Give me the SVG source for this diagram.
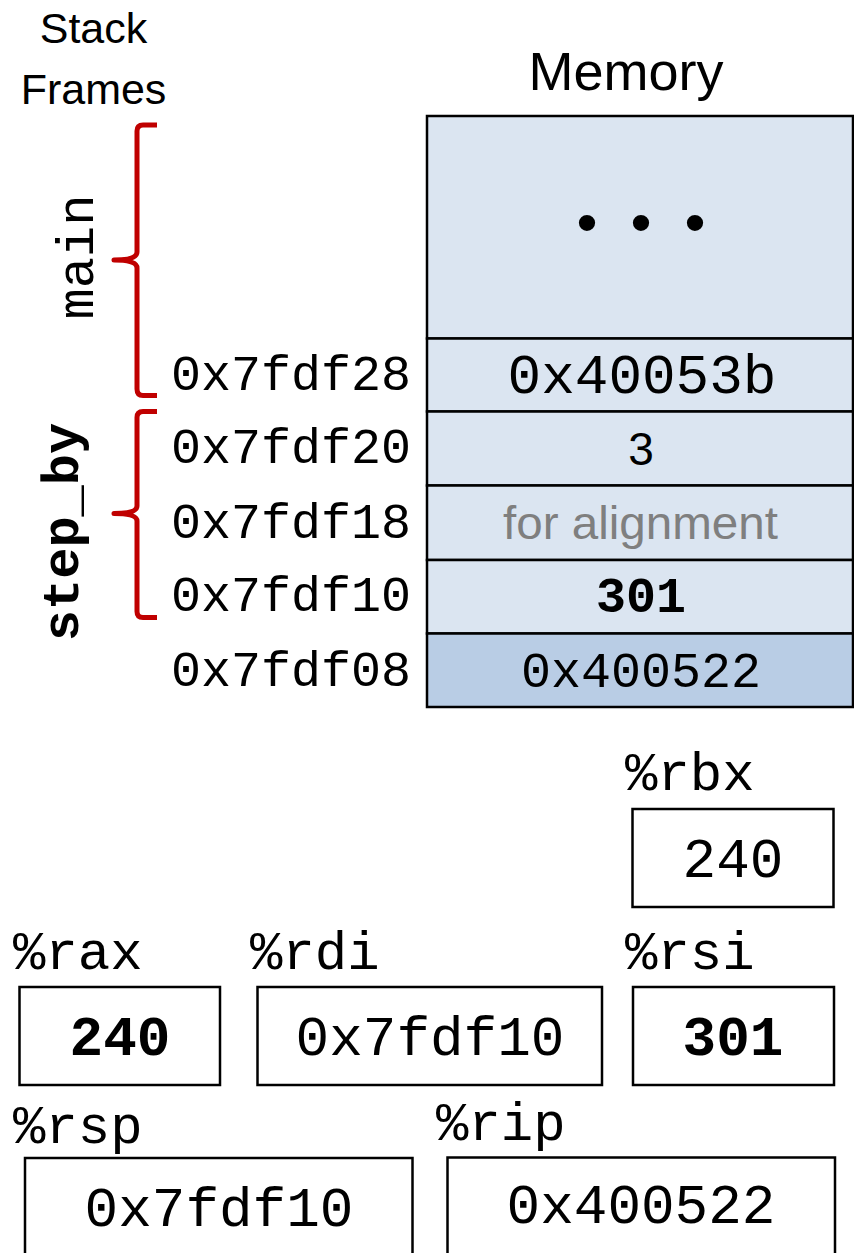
<svg xmlns="http://www.w3.org/2000/svg" width="854" height="1253" viewBox="0 0 854 1253">
<style>
.sans{font-family:"Liberation Sans",Arial,sans-serif;fill:#000}
.mono{font-family:"Liberation Mono","Courier New",monospace;fill:#000}
.b{font-weight:bold}
.mid{text-anchor:middle}
.cell{fill:#dbe5f1;stroke:#000;stroke-width:2.5}
.cell2{fill:#b9cde5;stroke:#000;stroke-width:2.5}
.reg{fill:#fff;stroke:#000;stroke-width:2.5}
.brace{fill:none;stroke:#c00000;stroke-width:5;stroke-linecap:butt;stroke-linejoin:round}
.addr{font-size:50px}
.lbl{font-size:54px}
.val{font-size:56px}
</style>
<rect width="854" height="1253" fill="#fff"/>

<g id="titles">
  <text class="sans" x="93.5" y="43" font-size="43" text-anchor="middle">Stack</text>
  <text class="sans" x="93.5" y="104" font-size="43" text-anchor="middle">Frames</text>
  <text class="sans" x="626" y="90" font-size="54" text-anchor="middle">Memory</text>
</g>

<g id="frame-labels">
  <text class="mono mid" font-size="52" transform="translate(93,257) rotate(-90)">main</text>
  <text class="mono mid b" font-size="52" transform="translate(78,532) rotate(-90)">step_by</text>
</g>

<g id="connectors">
  <path class="brace" d="M157,125 L143,125 Q137,125 137,131 L137,252 Q137,260 114,260 Q137,260 137,268 L137,389 Q137,395.5 143,395.5 L157,395.5"/>
  <path class="brace" d="M157,411.5 L143,411.5 Q137,411.5 137,417.5 L137,506 Q137,513.5 114,513.5 Q137,513.5 137,521 L137,611.5 Q137,617.5 143,617.5 L157,617.5"/>
</g>

<g id="memory">
  <g id="mem-top">
    <rect class="cell" x="427" y="116" width="426" height="222.5"/>
    <text class="sans mid" x="587" y="243" font-size="60">•</text>
    <text class="sans mid" x="641" y="243" font-size="60">•</text>
    <text class="sans mid" x="695" y="243" font-size="60">•</text>
  </g>
  <g id="mem-7fdf28">
    <rect class="cell" x="427" y="338.5" width="426" height="73"/>
    <text class="mono addr" x="171" y="390">0x7fdf28</text>
    <text class="mono mid" x="642" y="393" font-size="56">0x40053b</text>
  </g>
  <g id="mem-7fdf20">
    <rect class="cell" x="427" y="411.5" width="426" height="74"/>
    <text class="mono addr" x="171" y="463">0x7fdf20</text>
    <text class="sans mid" x="641" y="465" font-size="46">3</text>
  </g>
  <g id="mem-7fdf18">
    <rect class="cell" x="427" y="485.5" width="426" height="74.5"/>
    <text class="mono addr" x="171" y="538">0x7fdf18</text>
    <text class="sans mid" x="640.5" y="539" font-size="46" fill="#7f7f7f" style="fill:#7f7f7f" textLength="275" lengthAdjust="spacingAndGlyphs">for alignment</text>
  </g>
  <g id="mem-7fdf10">
    <rect class="cell" x="427" y="560" width="426" height="73.5"/>
    <text class="mono addr" x="171" y="611">0x7fdf10</text>
    <text class="mono mid b" x="641" y="612" font-size="50">301</text>
  </g>
  <g id="mem-7fdf08">
    <rect class="cell2" x="427" y="633.5" width="426" height="73.5"/>
    <text class="mono addr" x="171" y="686">0x7fdf08</text>
    <text class="mono mid" x="641" y="687" font-size="50">0x400522</text>
  </g>
</g>

<g id="reg-rbx">
  <text class="mono lbl" x="625" y="790">%rbx</text>
  <rect class="reg" x="632.5" y="809" width="201" height="98"/>
  <text class="mono val mid" x="733" y="877">240</text>
</g>
<g id="reg-rax">
  <text class="mono lbl" x="13" y="969">%rax</text>
  <rect class="reg" x="19.5" y="987" width="200.5" height="98"/>
  <text class="mono val mid b" x="120" y="1055">240</text>
</g>
<g id="reg-rdi">
  <text class="mono lbl" x="250" y="969">%rdi</text>
  <rect class="reg" x="257.5" y="987" width="344.5" height="98"/>
  <text class="mono val mid" x="430" y="1055">0x7fdf10</text>
</g>
<g id="reg-rsi">
  <text class="mono lbl" x="625" y="969">%rsi</text>
  <rect class="reg" x="633" y="987" width="201" height="98"/>
  <text class="mono val mid b" x="733" y="1055">301</text>
</g>
<g id="reg-rsp">
  <text class="mono lbl" x="13" y="1143">%rsp</text>
  <rect class="reg" x="25" y="1158" width="387.5" height="110"/>
  <text class="mono val mid" x="219" y="1226">0x7fdf10</text>
</g>
<g id="reg-rip">
  <text class="mono lbl" x="436" y="1140">%rip</text>
  <rect class="reg" x="447.5" y="1157.5" width="387.5" height="110"/>
  <text class="mono val mid" x="641" y="1223">0x400522</text>
</g>
</svg>
